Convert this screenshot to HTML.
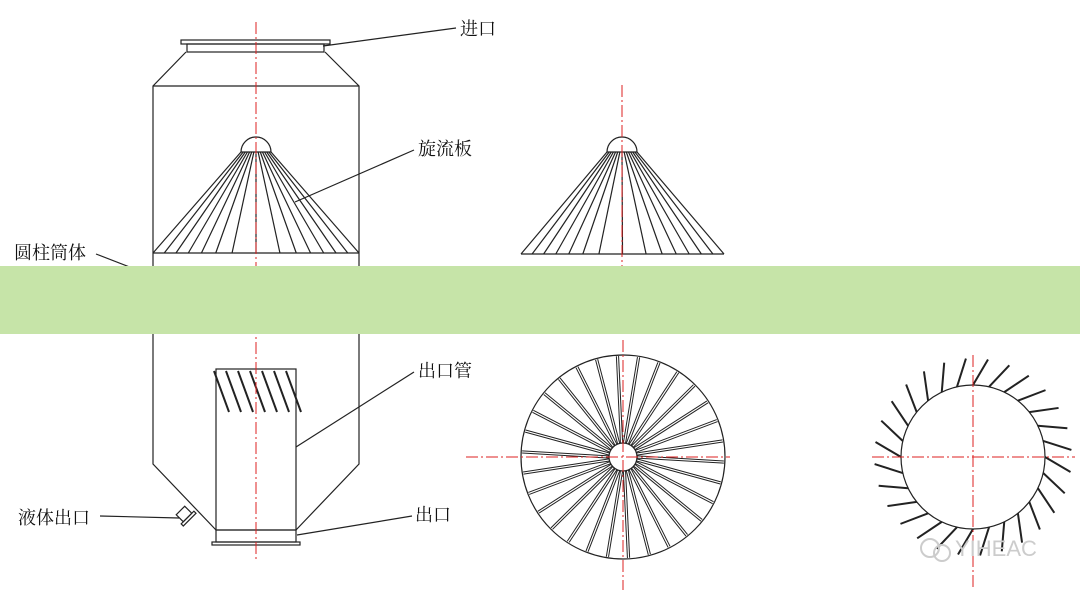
<!DOCTYPE html>
<html><head><meta charset="utf-8"><style>
html,body{margin:0;padding:0;background:#fff;}
svg{display:block}
text{font-family:"Liberation Serif","Noto Serif CJK SC","Noto Sans CJK SC",serif;font-size:18px;fill:#111}
</style></head><body>
<svg id="s" width="1080" height="593" viewBox="0 0 1080 593" xmlns="http://www.w3.org/2000/svg">
<g fill="none" stroke="#222" stroke-width="1.2" id="g">
<rect x="181" y="40" width="149" height="4"/>
<rect x="187" y="44" width="137" height="8"/>
<polyline points="186,52 153,86 153,464 216,530"/>
<polyline points="325,52 359,86 359,464 296,530"/>
<line x1="153" y1="86" x2="359" y2="86"/>
<rect x="216" y="369" width="80" height="161"/>
<rect x="216" y="530" width="80" height="12"/>
<rect x="212" y="542" width="88" height="3"/>
<line x1="153" y1="253" x2="359" y2="253"/>
<path d="M241,152 A15,15 0 0 1 271,152 Z"/>
<path d="M521,254 L724,254 M607,152 A15,15 0 0 1 637,152 Z"/>
<g transform="translate(184,514) rotate(-45)"><rect x="-6" y="-5" width="12" height="10"/><rect x="-9" y="5" width="18" height="3"/></g>
<circle cx="623" cy="457" r="102"/>
<circle cx="623" cy="457" r="14"/>
<circle cx="973" cy="457" r="72"/>
<line x1="323" y1="46" x2="456" y2="28"/>
<line x1="295" y1="202" x2="414" y2="150"/>
<line x1="96" y1="254" x2="153" y2="276"/>
<line x1="296" y1="447" x2="414" y2="372"/>
<line x1="100" y1="516" x2="179" y2="518"/>
<line x1="297" y1="535" x2="412" y2="516"/>
</g>
<g stroke="#d22" stroke-width="1" stroke-dasharray="12,3,2,3" fill="none">
<line x1="256" y1="22" x2="256" y2="560"/>
<line x1="622" y1="85" x2="622" y2="285"/>
<line x1="623" y1="340" x2="623" y2="590"/>
<line x1="466" y1="457" x2="730" y2="457"/>
<line x1="973" y1="355" x2="973" y2="590"/>
<line x1="872" y1="457" x2="1075" y2="457"/>
</g>
<rect x="0" y="266" width="1080" height="68" fill="#c6e4a8"/>
<text x="460" y="35">进口</text>
<text x="418" y="155">旋流板</text>
<text x="14" y="259">圆柱筒体</text>
<text x="418" y="377">出口管</text>
<text x="18" y="524">液体出口</text>
<text x="415" y="521">出口</text>
<text x="955" y="556" style="font-family:'Liberation Sans',sans-serif;font-size:22px;fill:#ccc">YIHEAC</text>
<circle cx="930" cy="548" r="9" fill="none" stroke="#ccc" stroke-width="2"/>
<circle cx="942" cy="553" r="8" fill="none" stroke="#ccc" stroke-width="2"/>
</svg>
<script>
var g=document.getElementById('g'),NS='http://www.w3.org/2000/svg';
function L(a,b,c,d,w){var l=document.createElementNS(NS,'line');l.setAttribute('x1',a);l.setAttribute('y1',b);l.setAttribute('x2',c);l.setAttribute('y2',d);if(w)l.setAttribute('stroke-width',w);g.appendChild(l);}
function cone(cx,x0,x1,yb){var n=14;for(var i=0;i<=n;i++){var t=i/n;var ax=cx-15+30*t;var bx=x0+(x1-x0)*(0.5+0.5*Math.sign(t-0.5)*Math.pow(Math.abs(2*t-1),0.75));L(ax,152,bx,yb);}}
cone(256,153,359,253);cone(622,521,724,254);
for(var i=0;i<7;i++){var x=214+12*i;L(x,371,x+15,412,2);}
var N=30;for(var i=0;i<N;i++){var a=i*2*Math.PI/N;var a2=a+0.05;
 for(var k=-1;k<=1;k+=2){var px=-Math.sin(a)*k*1.1,py=Math.cos(a)*k*1.1;
 L(623+14*Math.cos(a)+px,457+14*Math.sin(a)+py,623+101*Math.cos(a2)+px,457+101*Math.sin(a2)+py,1);}}
var M=28;for(var i=0;i<M;i++){var a=i*2*Math.PI/M;var x0=973+72*Math.cos(a),y0=457+72*Math.sin(a);var tx=-Math.sin(a),ty=Math.cos(a),rx=Math.cos(a),ry=Math.sin(a);var dx=0.85*rx+0.5*tx,dy=0.85*ry+0.5*ty;L(x0,y0,x0+30*dx,y0+30*dy,2);}
</script>
</body></html>
